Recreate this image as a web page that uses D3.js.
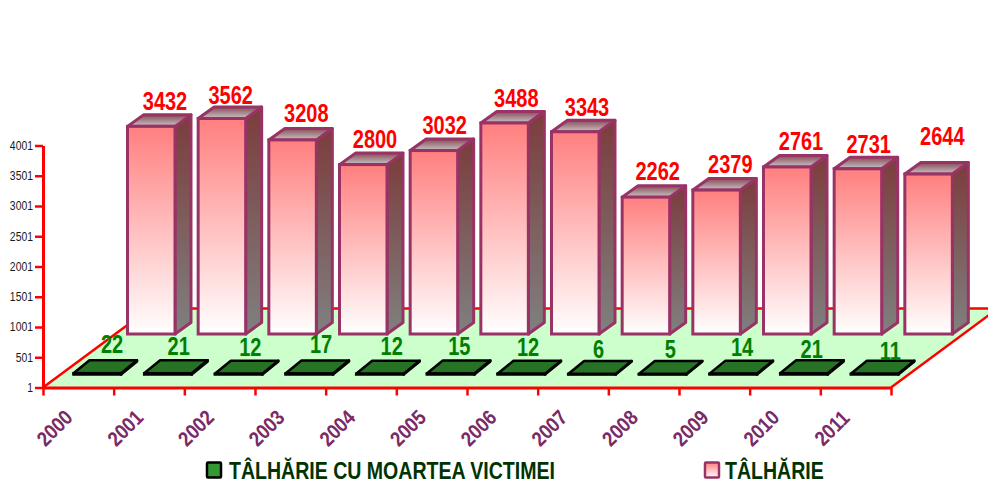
<!DOCTYPE html>
<html><head><meta charset="utf-8">
<script src="https://cdn.jsdelivr.net/npm/d3@7"></script>
<style>html,body{margin:0;padding:0;background:#fff}svg{display:block}
text{font-family:"Liberation Sans","Arial",sans-serif}</style>
</head><body><svg id="c" width="988" height="481"></svg>
<script>
const years=["2000","2001","2002","2003","2004","2005","2006","2007","2008","2009","2010","2011"];
const talharie=[3432,3562,3208,2800,3032,3488,3343,2262,2379,2761,2731,2644];
const talharieMoarte=[22,21,12,17,12,15,12,6,5,14,21,11];
const yTicks=[1,501,1001,1501,2001,2501,3001,3501,4001];
const seriesNames=["TÂLHĂRIE CU MOARTEA VICTIMEI","TÂLHĂRIE"];
// small hand nudges of the value labels, as placed in the original
const redNudgeX=[0,-5,0,-2,-3,-2,-2,-2,0,0,-3,0];
const redNudgeY=[0,2,-1,-0.5,0,1,1,-1,-1,0,1,-13];
const greenNudgeX=[1,-3,-2,-2,-2,-5,-7,-7,-6,-5,-6,2];
const greenNudgeY=[-3,-1,0,-3,-1,-1,0,2,2,0,2,4];

const svg=d3.select("#c");
const defs=svg.append("defs");
function grad(id,a,b){const g=defs.append("linearGradient").attr("id",id).attr("x1",0).attr("y1",0).attr("x2",0).attr("y2",1);
 g.append("stop").attr("offset",0).attr("stop-color",a);g.append("stop").attr("offset",1).attr("stop-color",b);}
grad("front","#ff7f7f","#ffffff");grad("side","#7c3c3c","#808080");grad("top","#8a4a55","#c6c6c6");

const x0=43,x1=891,yB=387.5,yT=145.5;
const xBand=d3.scaleBand().domain(years).range([x0,x1]);
const xTick=d3.scalePoint().domain([...years,"end"]).range([x0,x1]);
const y=d3.scaleLinear().domain([1,4001]).range([yB,yT]);
const h=v=>yB-y(v+1);

// floor
const backY=308.5, slope=0.74, backDx=(yB-backY)/slope;
svg.append("path").attr("fill","#ccffcc")
 .attr("d",`M${x0},${yB}L${x0+backDx},${backY}L${x1+backDx},${backY}L${x1},${yB}Z`);
svg.append("path").attr("fill","none").attr("stroke","#ff0000").attr("stroke-width",2.5)
 .attr("d",`M${x0},${yB}L${x0+backDx},${backY}L${x1+backDx},${backY}L${x1},${yB}`);

// axes
const gy=svg.append("g").attr("transform",`translate(${x0},0)`)
 .call(d3.axisLeft(y).tickValues(yTicks).tickSize(8).tickSizeOuter(0).tickFormat(d3.format("d")));
const gx=svg.append("g").attr("transform",`translate(0,${yB})`)
 .call(d3.axisBottom(xTick).tickSize(8).tickSizeOuter(0).tickFormat(d=>d==="end"?"":d));
[gy,gx].forEach(g=>{g.selectAll(".domain").attr("stroke","#ff0000").attr("stroke-width",3);
 g.selectAll("line").attr("stroke","#ff0000").attr("stroke-width",2.5);});
gy.selectAll("text").attr("fill","#1a1a1a").style("font-size","13px").attr("x",0).attr("dy","0.34em")
 .attr("transform","translate(-10,-0.5) scale(0.8,1)");
gx.selectAll("text").attr("fill","#7a2a66").style("font-size","21px").style("font-weight","bold")
 .attr("text-anchor","middle").attr("dy","0.35em").attr("y",0)
 .attr("transform","translate(11,40.5) rotate(-45) scale(0.86,1)");

// 3D box
function box(g,xf,base,w,ht,dx,dy,fills,stroke,sw){
 const top=base-ht;
 g.append("path").attr("d",`M${xf+w},${base}L${xf+w+dx},${base-dy}L${xf+w+dx},${top-dy}L${xf+w},${top}Z`)
  .attr("fill",fills.side).attr("stroke",stroke).attr("stroke-width",sw).attr("stroke-linejoin","round");
 g.append("path").attr("d",`M${xf},${top}L${xf+dx},${top-dy}L${xf+w+dx},${top-dy}L${xf+w},${top}Z`)
  .attr("fill",fills.top).attr("stroke",stroke).attr("stroke-width",sw).attr("stroke-linejoin","round");
 g.append("rect").attr("x",xf).attr("y",top).attr("width",w).attr("height",ht)
  .attr("fill",fills.front).attr("stroke",stroke).attr("stroke-width",sw);
}

// small series
const gs=svg.append("g");
years.forEach((yr,i)=>box(gs,xBand(yr)+30.5,374.5,47.5,Math.max(h(talharieMoarte[i]),0.5),16,13,
 {front:"#339933",side:"#267326",top:"#267326"},"#000000",2.5));
// large series
const gb=svg.append("g");
years.forEach((yr,i)=>box(gb,xBand(yr)+84.5,334,47.5,h(talharie[i]),16,11.5,
 {front:"url(#front)",side:"url(#side)",top:"url(#top)"},"#993366",3));

// value labels
svg.append("g").selectAll("text").data(talharie).join("text")
 .attr("transform",(d,i)=>`translate(${xBand(years[i])+122+redNudgeX[i]},${334-h(d)-16.5+redNudgeY[i]}) scale(0.8,1)`)
 .attr("text-anchor","middle").attr("fill","#ff0000").style("font-size","25px").style("font-weight","bold").text(d=>d);
svg.append("g").selectAll("text").data(talharieMoarte).join("text")
 .attr("transform",(d,i)=>`translate(${xBand(years[i])+68+greenNudgeX[i]},${356+greenNudgeY[i]}) scale(0.8,1)`)
 .attr("text-anchor","middle").attr("fill","#008000").style("font-size","25px").style("font-weight","bold").text(d=>d);

// legend
const lg=svg.append("g");
lg.append("rect").attr("x",207).attr("y",462.5).attr("width",14).attr("height",15).attr("rx",1)
 .attr("fill","#339933").attr("stroke","#000").attr("stroke-width",2.5);
lg.append("rect").attr("x",705).attr("y",462.5).attr("width",14).attr("height",15).attr("rx",1)
 .attr("fill","url(#front)").attr("stroke","#993366").attr("stroke-width",2.5);
lg.selectAll("text").data(seriesNames).join("text")
 .attr("transform",(d,i)=>`translate(${i?725:229},478.5) scale(0.85,1)`).attr("fill","#003300")
 .style("font-size","23px").style("font-weight","bold").text(d=>d);
</script></body></html>
